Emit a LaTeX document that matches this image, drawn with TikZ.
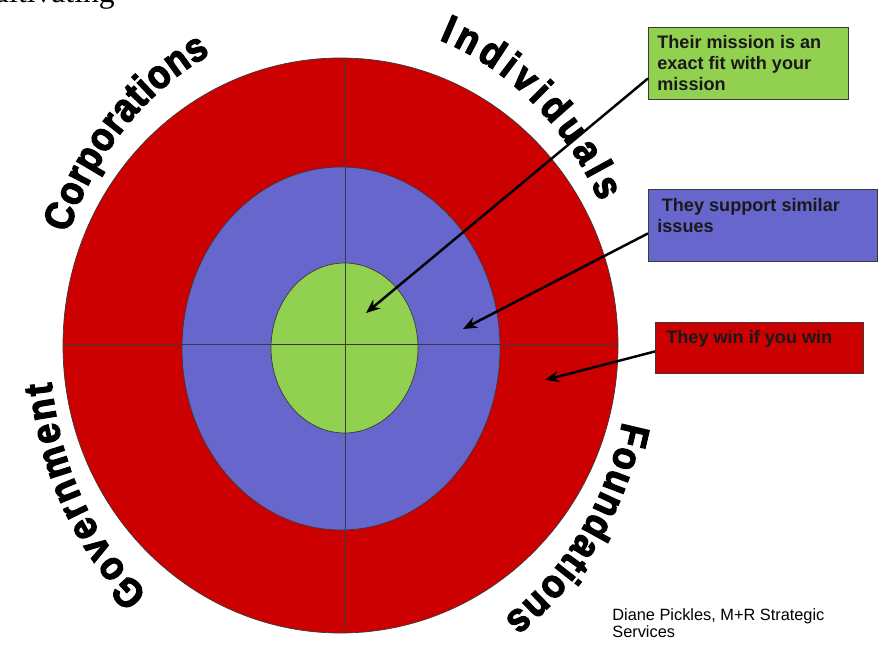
\documentclass[tikz,border=0pt]{standalone}
\usepackage{fontspec}
\setmainfont{Liberation Sans}
\newfontfamily\ringfont{Liberation Sans Bold}[FakeBold=3, FakeStretch=0.89]
\newfontfamily\headfont{Liberation Serif}
\usepackage{tikz}
\usetikzlibrary{arrows.meta,positioning,calc,shapes.geometric,decorations.text}

\definecolor{ringred}{HTML}{CC0000}
\definecolor{ringblue}{HTML}{6666CC}
\definecolor{ringgreen}{HTML}{92D050}
\definecolor{edgegray}{HTML}{3A3A3A}

\begin{document}
\begin{tikzpicture}[x=0.02cm, y=0.02cm,
  ring/.style={ellipse, draw=edgegray, line width=0.4pt, inner sep=0pt},
  infobox/.style={rectangle, draw=edgegray, line width=0.5pt, inner sep=0pt, anchor=north west},
  boxtext/.style={anchor=north west, align=left, inner sep=0pt, text=black!90,
    font=\bfseries\fontsize{10.3}{11.9}\selectfont},
  pointer/.style={-{Stealth[length=8pt, width=6.5pt]}, line width=1.4pt, black},
  ringlabel/.style={decorate, decoration={text along path, text align={fit to path},
    text={|\ringfont\fontsize{23}{23}\selectfont|#1}}}]
  \useasboundingbox (0,0) rectangle (878,646);

  % top line of the page, cut off
  \node (head) [anchor=base east, inner sep=0pt, font=\headfont\fontsize{18}{18}\selectfont] at (115,643) {ultivating};

  % target
  \node (outer) [ring, fill=ringred, minimum width=555*0.02cm, minimum height=575*0.02cm] at (340.5,300.5) {};
  \node (middle) [ring, fill=ringblue, minimum width=318*0.02cm, minimum height=363*0.02cm] at (341,297.5) {};
  \node (inner) [ring, fill=ringgreen, minimum width=147*0.02cm, minimum height=170*0.02cm] at (344.5,298) {};
  \draw [edgegray, line width=0.5pt] ([xshift=0.09cm]outer.north) -- ([xshift=0.09cm]outer.south);
  \draw [edgegray, line width=0.5pt] ([yshift=0.03cm]outer.west) -- ([yshift=0.03cm]outer.east);

  % labels round the target
  \coordinate (ringc) at (340,298);
  \path [ringlabel=Corporations] (ringc) ++(159.5:290 and 328) arc[start angle=159.5, end angle=116.5, x radius=290, y radius=328];
  \path [ringlabel=Individuals] (ringc) ++(70:290 and 328) arc[start angle=70, end angle=26.5, x radius=290, y radius=328];
  \path [ringlabel=Foundations] (ringc) ++(-13:290 and 328) arc[start angle=-13, end angle=-55.5, x radius=290, y radius=328];
  \path [ringlabel=Government] (ringc) ++(228.5:290 and 328) arc[start angle=228.5, end angle=186, x radius=290, y radius=328];

  % boxes
  \node (gbox) [infobox, fill=ringgreen, minimum width=4cm, minimum height=1.44cm] at (648,619) {};
  \node (bbox) [infobox, fill=ringblue, minimum width=4.58cm, minimum height=1.44cm] at (648,457) {};
  \node (rbox) [infobox, fill=ringred, minimum width=4.16cm, minimum height=1.02cm] at (655,324) {};
  \node (gtext) [boxtext] at ([xshift=0.18cm, yshift=-0.16cm]gbox.north west) {Their mission is an\\exact fit with your\\mission};
  \node (btext) [boxtext] at ([xshift=0.18cm, yshift=-0.18cm]bbox.north west) {\hspace*{0.25em}They support similar\\issues};
  \node (rtext) [boxtext] at ([xshift=0.22cm, yshift=-0.16cm]rbox.north west) {They win if you win};

  \coordinate (gtip) at (366,333);
  \coordinate (btip) at (463,317);
  \coordinate (rtip) at (545,266);
  \draw [pointer] ([yshift=-0.30cm]gbox.west) -- (gtip);
  \draw [pointer] ([yshift=-0.16cm]bbox.west) -- (btip);
  \draw [pointer] ([yshift=-0.07cm]rbox.west) -- (rtip);

  % credit
  \node (credit) [anchor=north west, align=left, inner sep=0pt, font=\fontsize{9.3}{9.8}\selectfont] at (612,38) {Diane Pickles, M+R Strategic\\Services};
\end{tikzpicture}
\end{document}
